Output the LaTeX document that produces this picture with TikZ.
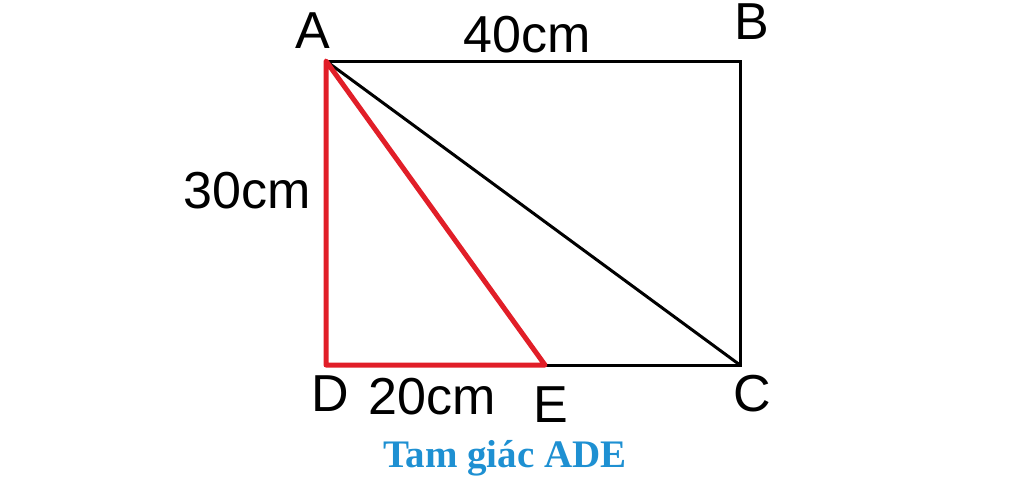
\documentclass[tikz,border=0pt]{standalone}
\usepackage{fontspec}
\setmainfont{Liberation Serif}
\newfontfamily\arialfont{Liberation Sans}
\definecolor{capblue}{RGB}{30,144,210}
\definecolor{trired}{RGB}{225,30,40}
\begin{document}
\begin{tikzpicture}[x=1pt, y=-1pt, every node/.style={inner sep=0pt}]
      \def\blackwidth{3pt}
      \def\redwidth{5pt}
      \tikzset{lbl/.style={font=\arialfont\fontsize{52}{52}\selectfont, anchor=center}}

      \useasboundingbox (0,0) rectangle (1024,496);

      %corners
      \coordinate (A) at (326,61);
      \coordinate (B) at (740,61);
      \coordinate (C) at (740,365);
      \coordinate (D) at (326,365);
      \coordinate (E) at (545,365);

      %rectangle and diagonal
      \draw[black, line width=\blackwidth] (A) -- (B) -- (C) -- (E);
      \draw[black, line width=\blackwidth] (A) -- (C);

      %triangle
      \draw[trired, line width=\redwidth, line join=round] (A) -- (D) -- (E) -- cycle;

      %labels
      \node[lbl, name=lblA  ] at (313,31)  {A};
      \node[lbl, name=lblB  ] at (752,22)  {B};
      \node[lbl, name=lblAB ] at (527,35)  {40cm};
      \node[lbl, name=lblAD ] at (247,191) {30cm};
      \node[lbl, name=lblD  ] at (330,394) {D};
      \node[lbl, name=lblDE ] at (432,397) {20cm};
      \node[lbl, name=lblE  ] at (551,405) {E};
      \node[lbl, name=lblC  ] at (752,394) {C};
      \node[font=\fontsize{39}{39}\selectfont\bfseries, text=capblue, name=caption] at (505,458) {Tam giác ADE};
\end{tikzpicture}
\end{document}
